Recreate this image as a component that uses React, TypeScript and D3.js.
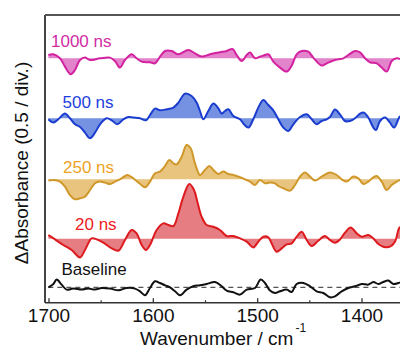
import React from "react";
import * as d3 from "d3";

// ---- data (wavenumber cm^-1, ΔA in arbitrary units) ----
const wn1000 = [1700.6,1695.9,1689.5,1684.7,1679.2,1675.1,1670.3,1665.5,1660.7,1651.1,1641.5,1636.8,1632.0,1627.2,1620.7,1616.0,1611.2,1603.2,1598.4,1593.6,1588.8,1582.4,1576.1,1566.5,1560.1,1553.7,1545.7,1536.1,1529.7,1524.1,1520.1,1515.3,1510.5,1507.3,1502.5,1497.8,1494.6,1489.8,1485.0,1478.6,1472.2,1467.4,1462.6,1457.8,1451.5,1446.7,1438.6,1433.8,1425.9,1417.9,1413.1,1406.7,1401.9,1397.1,1392.3,1385.9,1381.1,1376.3,1371.5,1366.7,1363.6];
const abs1000 = [3.3,4,0,-8.3,-16,-11.7,-1.7,0.7,-1.7,0,0.7,-2.7,-9.3,-1.7,4,0,-3.3,-4,-5,1.7,7.3,7.3,4,8.3,5,1.7,4,6,7.3,9.3,3.3,-2.7,3.3,5.7,0,1.7,2.7,4,-3.3,-9.3,-13.3,-7.3,4,7.3,6.7,0.7,-7.3,-5,-1.7,0,3.3,7.3,6,0,-4,-5,-9.3,-13.3,-2.7,0,-0.7];

const wn500 = [1700.6,1695.8,1691.1,1684.7,1679.9,1675.1,1670.3,1665.5,1660.7,1655.9,1651.1,1644.7,1639.9,1634.5,1628.8,1624.0,1619.2,1612.8,1607.0,1603.2,1598.4,1593.6,1587.2,1580.8,1576.0,1569.6,1563.3,1558.5,1555.3,1552.1,1547.3,1542.5,1537.7,1534.5,1531.3,1528.1,1523.3,1516.9,1513.1,1508.9,1504.2,1499.4,1494.6,1489.8,1485.0,1480.2,1475.4,1470.6,1465.8,1459.4,1453.0,1448.2,1443.5,1438.7,1433.9,1430.7,1425.9,1421.1,1416.3,1411.5,1406.7,1401.9,1398.1,1393.9,1389.1,1386.6,1382.7,1377.9,1373.2,1369.3,1365.2,1363.6];
const abs500 = [-1,-4.3,-1,4.7,0,-6,-8.7,-14.3,-20,-14.3,-6,0,-2,-6,-1,1.3,0.7,0,-2,3.3,9.7,8,9,10.7,15.7,24.7,22.3,15.7,7.3,-1,7.3,14.7,10,4.7,7.3,9,2.3,-1,-6,-9.3,-1,10.7,18.3,13.3,8,-1,-9.3,-12.7,-6,1.3,4,-1,-6,-2.7,-1,1.3,8.7,4,-2.7,-2.7,0,4.7,5.7,0.7,-9.3,-11.7,-2.7,0.7,-4.3,-9.3,-1,2.3];

const wn250 = [1700.6,1695.8,1689.5,1684.7,1679.9,1675.1,1670.3,1665.5,1660.7,1655.9,1651.1,1646.3,1641.5,1636.7,1630.4,1624.9,1619.2,1613.4,1608.0,1603.2,1598.4,1593.6,1588.8,1584.7,1580.8,1577.6,1572.8,1568.1,1564.2,1561.0,1558.5,1555.3,1550.5,1546.3,1542.5,1537.7,1532.9,1528.1,1523.3,1516.9,1512.1,1507.3,1502.6,1497.8,1493.0,1488.2,1483.4,1480.2,1475.4,1469.0,1464.2,1459.4,1454.6,1449.8,1445.0,1438.7,1430.7,1424.3,1419.5,1414.7,1408.3,1403.5,1398.7,1393.9,1389.1,1385.9,1381.1,1376.4,1371.6,1366.8,1363.6];
const abs250 = [-1.3,-0.7,-2.3,-7.3,-15.7,-20,-19,-17.3,-10.7,-4,-2.3,-3.3,-4.7,-2.3,1,4.3,1,-4,-8,-2.3,6,7.7,13.3,19.3,16,15,22.7,34.3,31,19.3,11,4.3,9.3,13.3,9.3,5.3,7.7,5.3,4.3,2,0,-2.3,-5.7,-0.7,-4,-3.3,-4,-6.7,-9,-11.3,-5.7,2.7,6.7,2.7,-1.3,2.7,6.7,4.3,0,-2.3,2.7,1,-4.7,-2.3,2,3.3,-2.3,-10.7,-5.7,-2.3,-0.7];

const wn20 = [1700.6,1694.2,1686.3,1678.3,1670.3,1665.5,1659.1,1654.3,1647.9,1639.9,1633.5,1627.2,1620.8,1616.0,1611.2,1607.0,1603.2,1596.8,1590.4,1585.6,1580.8,1576.0,1571.2,1565.5,1561.0,1557.8,1553.7,1548.9,1542.5,1536.1,1529.7,1523.3,1516.9,1510.5,1504.2,1499.4,1494.6,1489.8,1486.6,1481.8,1477.0,1472.2,1467.4,1462.6,1457.8,1453.0,1448.2,1441.9,1435.5,1430.7,1425.9,1421.1,1416.3,1410.9,1405.1,1400.3,1393.9,1389.1,1384.3,1379.6,1373.2,1368.4,1365.2,1363.6];
const abs20 = [3.7,-0.7,-6.3,-11.3,-18.7,-11.3,0.3,-0.7,-4,-9.7,-12,-1.3,8.7,5.3,-6.3,-11.3,-6.3,8.7,15.3,13.7,12.7,25.3,42,54.7,48.7,37,22,13.7,12,8.7,2.7,2.7,0.3,-3,-8.7,-3,2,1.3,-4.7,-13,-9.7,-5.7,-4.7,2,7,-1.3,-7.3,-2,2.7,-1.3,-4,-0.7,6,11.3,5.3,2,3.7,0.3,-5.3,-8,-8,-3,8.7,12];

const wnBase = [1700.6,1695.8,1692.7,1687.9,1683.1,1676.7,1668.7,1662.3,1655.9,1649.5,1641.5,1633.5,1625.6,1617.6,1612.8,1608.0,1603.2,1598.4,1593.6,1588.8,1584.0,1579.2,1574.4,1568.1,1561.7,1555.3,1548.9,1540.9,1534.5,1529.7,1523.3,1516.9,1510.5,1502.6,1497.1,1493.0,1488.2,1483.4,1478.6,1472.2,1467.4,1462.6,1456.2,1449.8,1443.5,1437.1,1430.7,1425.9,1419.5,1413.1,1406.7,1400.3,1393.9,1389.1,1384.3,1379.6,1374.8,1370.0,1365.2,1363.6];
const absBase = [0,3.3,7.7,2.7,-2.3,-1.3,-2.3,-1.3,-2.3,-0.7,-1.3,-3,-0.7,-1.3,-4,-8,-0.7,6,4.3,2,0,-4,-8,-2.3,1,2,3.3,5.3,1,-3.3,-5,-7.3,-2.3,-0.7,7.7,4.3,-3.3,-5.7,-4,-2.3,-4.7,3.3,4.3,1,-4,-5.7,-10,-9,-4,-0.7,1,3.3,2.7,5.3,3.3,5.3,6.7,3.3,4.3,5];

const seriesLabels = ["1000 ns", "500 ns", "250 ns", "20 ns"];
const seriesOffsets = [229, 169, 108, 48.6];
const baselineLabel = "Baseline";
const majorTicks = [1700, 1600, 1500, 1400];
const minorTicks = [1650, 1550, 1450];
const xTitle = "Wavenumber / cm";
const xTitleSup = "-1";
const yTitle = "ΔAbsorbance (0.5 / div.)";

const lineColors = ["#d3229f", "#1a3ccf", "#d0982a", "#dd1a1e"];
const fillColors = ["#e283cc", "#7491e2", "#e8c47e", "#e67d82"];
const labelColors = ["#d22ca5", "#1c3ee0", "#eea21e", "#ee1b22"];

export default function App() {
  const W = 400, H = 349;
  const left = 45, top = 15, bottom = 302.7, right = 415;
  const x = d3.scaleLinear().domain([1700, 1400]).range([49, 362]);
  const y = d3.scaleLinear().domain([-15.4, 272.3]).range([bottom, top]);

  const wns = [wn1000, wn500, wn250, wn20];
  const abss = [abs1000, abs500, abs250, abs20];

  const curve = d3.curveCatmullRom.alpha(0.5);

  const labelPos = [
    { x: 51, y: 46.7 },
    { x: 62.5, y: 108 },
    { x: 63, y: 173.3 },
    { x: 75, y: 230 },
  ];

  return (
    <svg width={W} height={H} style={{ position: "absolute", left: 0, top: 0, background: "#fff" }}
      fontFamily="'Liberation Sans', Arial, sans-serif">
      <defs>
        <clipPath id="plotclip">
          <rect x={left} y={top} width={right - left} height={bottom - top} />
        </clipPath>
      </defs>
      <g clipPath="url(#plotclip)">
        {wns.map((wn, i) => {
          const off = seriesOffsets[i];
          const pts = wn.map((w, j) => [w, abss[i][j]] as [number, number]);
          const area = d3.area<[number, number]>()
            .x(d => x(d[0])).y0(y(off)).y1(d => y(d[1] + off)).curve(curve);
          const line = d3.line<[number, number]>()
            .x(d => x(d[0])).y(d => y(d[1] + off)).curve(curve);
          return (
            <g key={i}>
              <path d={area(pts) || ""} fill={fillColors[i]} />
              <path d={line(pts) || ""} fill="none" stroke={lineColors[i]} strokeWidth={2} strokeLinejoin="round" />
            </g>
          );
        })}
        <line x1={x(1700.6)} x2={W} y1={y(0)} y2={y(0)} stroke="#555" strokeWidth={1.3} strokeDasharray="5,4" />
        <path
          d={d3.line<[number, number]>().x(d => x(d[0])).y(d => y(d[1])).curve(curve)(
            wnBase.map((w, j) => [w, absBase[j]] as [number, number])) || ""}
          fill="none" stroke="#111" strokeWidth={2} strokeLinejoin="round" />
      </g>

      {seriesLabels.map((t, i) => (
        <text key={t} x={labelPos[i].x} y={labelPos[i].y} fontSize={17} fill={labelColors[i]}>{t}</text>
      ))}
      <text x={61.5} y={274.7} fontSize={17} fill="#111">{baselineLabel}</text>

      {/* frame */}
      <line x1={left} x2={left} y1={top} y2={bottom} stroke="#444" strokeWidth={2} />
      <line x1={left} x2={W} y1={top} y2={top} stroke="#555" strokeWidth={2} />
      <line x1={left} x2={W} y1={bottom} y2={bottom} stroke="#333" strokeWidth={1.5} />

      {majorTicks.map(t => (
        <g key={t}>
          <line x1={x(t)} x2={x(t)} y1={bottom} y2={bottom - 4.5} stroke="#333" strokeWidth={1.3} />
          <text x={x(t)} y={322.3} fontSize={19} textAnchor="middle" fill="#111">{t}</text>
        </g>
      ))}
      {minorTicks.map(t => (
        <line key={t} x1={x(t)} x2={x(t)} y1={bottom} y2={bottom - 2.5} stroke="#333" strokeWidth={1.2} />
      ))}

      <text x={140} y={344.5} fontSize={19} fill="#111">
        {xTitle}
        <tspan dx={2} dy={-13} fontSize={12}>{xTitleSup}</tspan>
      </text>
      <text transform="translate(28,163) rotate(-90)" fontSize={19} textAnchor="middle" fill="#111">{yTitle}</text>
    </svg>
  );
}
